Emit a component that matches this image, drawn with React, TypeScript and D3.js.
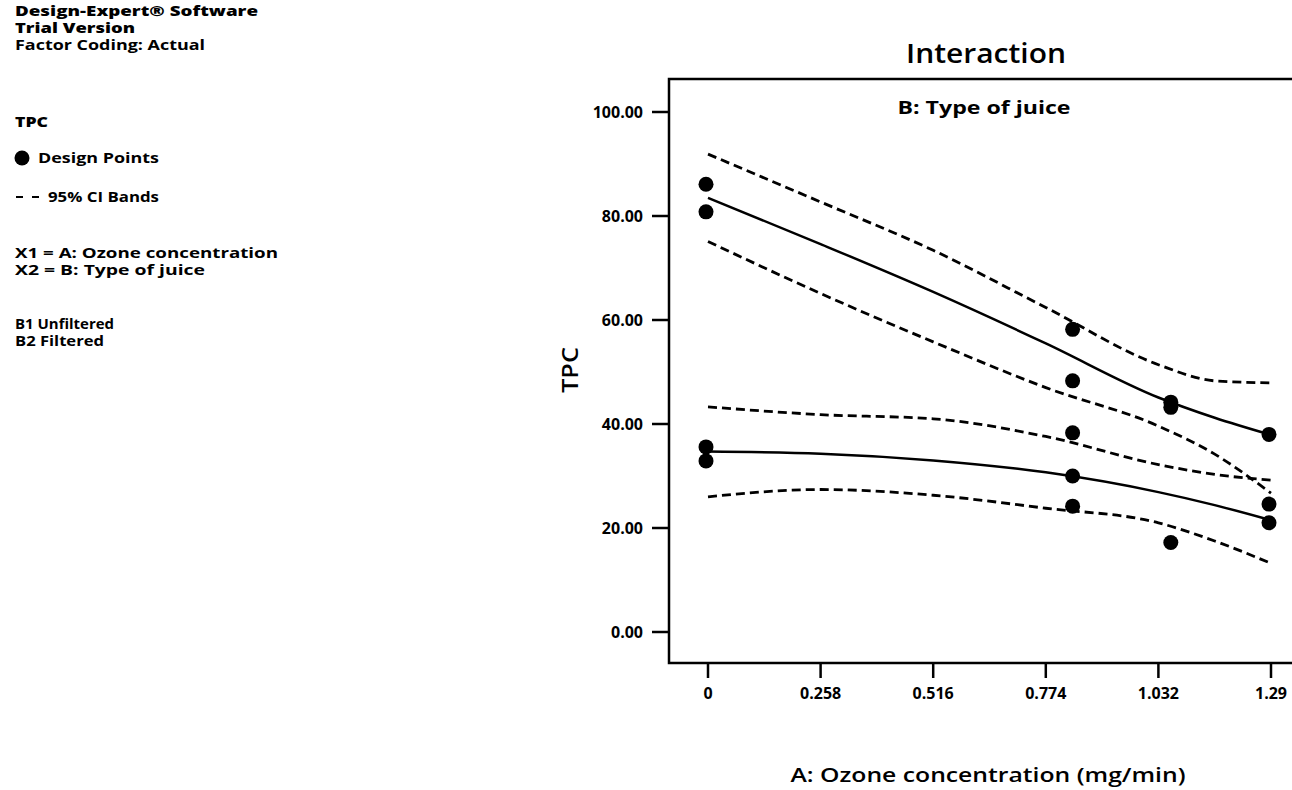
import React, { useEffect, useRef } from "react";
import * as d3 from "d3";

const curveX = [0, 0.258, 0.516, 0.774, 1.032, 1.161, 1.29];
const b1Fit = [83.5, 74.6, 65.4, 55.5, 45.1, 41.2, 37.9];
const b1Upper = [91.9, 82.7, 73.4, 62.4, 51.4, 48.3, 47.9];
const b1Lower = [75.1, 65.1, 55.8, 47.0, 39.6, 34.2, 26.7];
const b2Fit = [34.7, 34.3, 33.0, 30.7, 26.9, 24.4, 21.5];
const b2Upper = [43.3, 41.8, 41.0, 37.6, 32.2, 30.3, 29.2];
const b2Lower = [26.0, 27.4, 26.3, 23.8, 21.0, 17.5, 13.2];

// design points
const b1PointsX = [0, 0, 0.84, 0.84, 1.065, 1.065, 1.29];
const b1PointsY = [86.1, 80.8, 58.2, 48.3, 44.2, 43.2, 38.0];
const b2PointsX = [0, 0, 0.84, 0.84, 0.84, 1.065, 1.29, 1.29];
const b2PointsY = [35.6, 32.9, 38.3, 30.0, 24.2, 17.2, 24.6, 21.0];

const xTicks = [0, 0.258, 0.516, 0.774, 1.032, 1.29];
const xTickLabels = ["0", "0.258", "0.516", "0.774", "1.032", "1.29"];
const yTicks = [0, 20, 40, 60, 80, 100];

const infoLines = [
  { text: "Design-Expert® Software", y: 16, w: 243, weight: 800 },
  { text: "Trial Version", y: 33, w: 120, weight: 800 },
  { text: "Factor Coding: Actual", y: 50, w: 190, weight: 700 },
  { text: "TPC", y: 127, w: 33, weight: 800 },
  { text: "X1 = A: Ozone concentration", y: 258, w: 263, weight: 700 },
  { text: "X2 = B: Type of juice", y: 275, w: 190, weight: 700 },
  { text: "B1 Unfiltered", y: 329, w: 99, weight: 700 },
  { text: "B2 Filtered", y: 346, w: 89, weight: 700 },
];

const FONT = "'Open Sans', 'Noto Sans', sans-serif";

const App: React.FC = () => {
  const svgRef = useRef<SVGSVGElement>(null);

  useEffect(() => {
    if (!svgRef.current) return;
    const root = d3.select(svgRef.current);
    root.selectAll("*").remove();

    const x = d3.scaleLinear().domain([0, 1.29]).range([708, 1271]);
    const y = d3.scaleLinear().domain([0, 100]).range([632, 112]);

    const frame = { left: 669, top: 79, bottom: 663, right: 1310 };

    // left info panel
    const info = root.append("g").style("font-family", FONT).attr("fill", "#000");
    infoLines.forEach((l) => {
      info
        .append("text")
        .attr("x", 15)
        .attr("y", l.y)
        .attr("textLength", l.w)
        .attr("lengthAdjust", "spacingAndGlyphs")
        .style("font-size", "14px")
        .style("font-weight", l.weight)
        .text(l.text);
    });
    info.append("circle").attr("cx", 22).attr("cy", 158).attr("r", 7.5);
    info
      .append("text")
      .attr("x", 38)
      .attr("y", 163)
      .attr("textLength", 121)
      .attr("lengthAdjust", "spacingAndGlyphs")
      .style("font-size", "14px")
      .style("font-weight", 700)
      .text("Design Points");
    info
      .append("line")
      .attr("x1", 16)
      .attr("x2", 40)
      .attr("y1", 197)
      .attr("y2", 197)
      .attr("stroke", "#000")
      .attr("stroke-width", 2)
      .attr("stroke-dasharray", "7,9");
    info
      .append("text")
      .attr("x", 48)
      .attr("y", 202)
      .attr("textLength", 111)
      .attr("lengthAdjust", "spacingAndGlyphs")
      .style("font-size", "14px")
      .style("font-weight", 700)
      .text("95% CI Bands");

    // titles
    root
      .append("text")
      .attr("x", 986)
      .attr("y", 63)
      .attr("text-anchor", "middle")
      .attr("textLength", 160)
      .attr("lengthAdjust", "spacingAndGlyphs")
      .style("font-family", FONT)
      .style("font-size", "27px")
      .style("font-weight", 600)
      .text("Interaction");
    root
      .append("text")
      .attr("x", 984)
      .attr("y", 114)
      .attr("text-anchor", "middle")
      .attr("textLength", 173)
      .attr("lengthAdjust", "spacingAndGlyphs")
      .style("font-family", FONT)
      .style("font-size", "17px")
      .style("font-weight", 700)
      .text("B: Type of juice");
    root
      .append("text")
      .attr("x", 988)
      .attr("y", 782)
      .attr("text-anchor", "middle")
      .attr("textLength", 395)
      .attr("lengthAdjust", "spacingAndGlyphs")
      .style("font-family", FONT)
      .style("font-size", "20px")
      .style("font-weight", 600)
      .text("A: Ozone concentration (mg/min)");
    root
      .append("text")
      .attr("transform", "translate(578,370) rotate(-90)")
      .attr("text-anchor", "middle")
      .attr("textLength", 46)
      .attr("lengthAdjust", "spacingAndGlyphs")
      .style("font-family", FONT)
      .style("font-size", "21px")
      .style("font-weight", 600)
      .text("TPC");

    // frame
    root
      .append("path")
      .attr(
        "d",
        `M${frame.right},${frame.top}H${frame.left}V${frame.bottom}H${frame.right}`
      )
      .attr("fill", "none")
      .attr("stroke", "#000")
      .attr("stroke-width", 2.5);

    // y ticks
    const yAxis = root.append("g");
    yTicks.forEach((t) => {
      yAxis
        .append("line")
        .attr("x1", 652)
        .attr("x2", frame.left)
        .attr("y1", y(t))
        .attr("y2", y(t))
        .attr("stroke", "#000")
        .attr("stroke-width", 2.5);
      yAxis
        .append("text")
        .attr("x", 643)
        .attr("y", y(t))
        .attr("dy", "0.35em")
        .attr("text-anchor", "end")
        .style("font-family", FONT)
        .style("font-size", "16px")
        .style("font-weight", 700)
        .text(d3.format(".2f")(t));
    });

    // x ticks
    const xAxis = root.append("g");
    xTicks.forEach((t, i) => {
      xAxis
        .append("line")
        .attr("x1", x(t))
        .attr("x2", x(t))
        .attr("y1", frame.bottom)
        .attr("y2", 678)
        .attr("stroke", "#000")
        .attr("stroke-width", 2.5);
      xAxis
        .append("text")
        .attr("x", x(t))
        .attr("y", 699)
        .attr("text-anchor", "middle")
        .style("font-family", FONT)
        .style("font-size", "16px")
        .style("font-weight", 700)
        .text(xTickLabels[i]);
    });

    const line = d3
      .line<number>()
      .x((_, i) => x(curveX[i]))
      .y((d) => y(d))
      .curve(d3.curveMonotoneX);

    const plot = root.append("g");
    [b1Upper, b1Lower, b2Upper, b2Lower].forEach((s) => {
      plot
        .append("path")
        .attr("d", line(s))
        .attr("fill", "none")
        .attr("stroke", "#000")
        .attr("stroke-width", 2.8)
        .attr("stroke-dasharray", "9,5");
    });
    [b1Fit, b2Fit].forEach((s) => {
      plot
        .append("path")
        .attr("d", line(s))
        .attr("fill", "none")
        .attr("stroke", "#000")
        .attr("stroke-width", 2.5);
    });

    const pts = [
      ...b1PointsX.map((v, i) => [v, b1PointsY[i]]),
      ...b2PointsX.map((v, i) => [v, b2PointsY[i]]),
    ];
    plot
      .selectAll("circle")
      .data(pts)
      .enter()
      .append("circle")
      .attr("cx", (d) => x(d[0]) - 2)
      .attr("cy", (d) => y(d[1]))
      .attr("r", 7.5)
      .attr("fill", "#000");
  }, []);

  return (
    <svg
      ref={svgRef}
      width={1292}
      height={790}
      style={{ position: "absolute", left: 0, top: 0, background: "#fff" }}
    />
  );
};

export default App;
